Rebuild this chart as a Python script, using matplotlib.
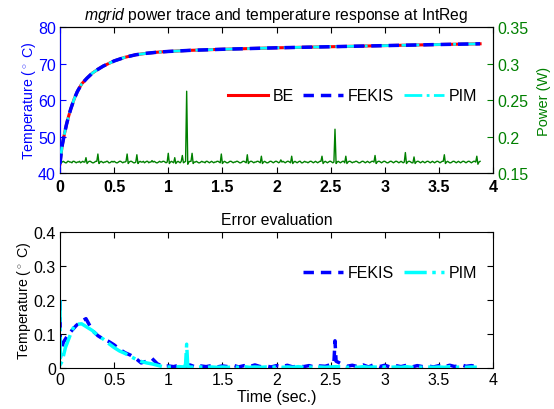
import matplotlib.pyplot as plt
import numpy as np

plt.rcParams['font.family'] = ['Liberation Sans', 'DejaVu Sans']
plt.rcParams['mathtext.fontset'] = 'custom'
plt.rcParams['mathtext.rm'] = 'Liberation Sans'
plt.rcParams['mathtext.it'] = 'Liberation Sans:italic'

# temperature response (same curve for the three solvers at this scale)
temp_t = [0, 0.01, 0.02, 0.04, 0.06, 0.08, 0.1, 0.13, 0.16, 0.2, 0.25, 0.3, 0.35,
          0.4, 0.5, 0.6, 0.7, 0.8, 0.9, 1.0, 1.2, 1.5, 2.0, 2.5, 3.0, 3.5, 3.88]
temp_be = [42.5, 45.2, 47.5, 50.6, 53.3, 55.6, 57.6, 60.2, 62.3, 64.4, 66.0, 67.4, 68.4,
           69.3, 70.7, 71.7, 72.4, 72.8, 73.1, 73.3, 73.6, 73.9, 74.3, 74.6, 74.9, 75.2, 75.4]
temp_fekis = temp_be
temp_pim = temp_be

# power trace in mW, one sample per 10 ms from 0 to 3.88 s
power_mw = [
    166, 164, 165, 166, 165, 164, 164, 166, 166, 165,
    165, 164, 166, 166, 165, 164, 165, 165, 166, 164,
    165, 166, 165, 165, 171, 163, 165, 166, 166, 165,
    164, 164, 165, 166, 166, 176, 163, 165, 166, 165,
    164, 165, 165, 166, 166, 164, 164, 165, 166, 165,
    166, 165, 164, 164, 165, 166, 166, 165, 164, 165,
    165, 166, 176, 163, 165, 166, 166, 165, 164, 164,
    165, 175, 163, 165, 166, 165, 165, 166, 164, 165,
    166, 166, 164, 165, 165, 167, 165, 166, 165, 164,
    164, 165, 166, 165, 165, 166, 166, 165, 164, 165,
    177, 163, 165, 166, 165, 164, 171, 163, 165, 166,
    165, 164, 166, 174, 164, 165, 166, 262, 162, 165,
    166, 166, 177, 163, 165, 165, 166, 165, 164, 164,
    165, 166, 165, 165, 164, 166, 166, 165, 164, 165,
    166, 165, 164, 165, 165, 166, 166, 165, 164, 176,
    163, 165, 166, 165, 164, 164, 165, 166, 166, 165,
    164, 165, 165, 166, 166, 165, 164, 164, 165, 166,
    166, 165, 164, 175, 163, 165, 166, 166, 165, 164,
    165, 165, 166, 166, 165, 164, 173, 163, 165, 166,
    165, 164, 164, 165, 166, 166, 165, 164, 165, 166,
    166, 165, 164, 165, 168, 165, 166, 165, 164, 165,
    166, 166, 165, 164, 173, 163, 165, 166, 165, 164,
    165, 166, 166, 164, 164, 165, 166, 165, 165, 164,
    165, 166, 166, 165, 164, 165, 166, 165, 164, 165,
    166, 166, 173, 163, 165, 166, 165, 164, 165, 166,
    166, 165, 164, 165, 210, 163, 165, 166, 165, 164,
    165, 166, 166, 164, 173, 163, 165, 166, 166, 165,
    164, 165, 165, 166, 166, 165, 164, 164, 165, 166,
    166, 165, 164, 165, 166, 165, 164, 165, 166, 166,
    165, 174, 163, 165, 166, 166, 165, 164, 165, 166,
    166, 165, 164, 164, 165, 166, 166, 165, 164, 165,
    166, 166, 165, 164, 165, 166, 165, 164, 165, 178,
    163, 165, 166, 166, 165, 164, 164, 172, 163, 165,
    166, 166, 165, 164, 165, 166, 165, 164, 165, 166,
    166, 165, 164, 165, 166, 165, 164, 165, 166, 166,
    165, 164, 165, 166, 166, 175, 163, 165, 166, 165,
    164, 164, 165, 166, 166, 165, 164, 165, 166, 165,
    164, 165, 166, 166, 165, 164, 165, 166, 166, 165,
    164, 165, 166, 166, 165, 173, 162, 165, 166,
]
power_t = np.arange(len(power_mw)) * 0.01
power_w = np.array(power_mw) / 1000.0

# error vs BE
fekis_err_t = [0, 0.003, 0.01, 0.03, 0.06, 0.1, 0.15, 0.2, 0.24, 0.3, 0.35, 0.4, 0.45,
               0.5, 0.55, 0.6, 0.65, 0.7, 0.75, 0.8, 0.85, 0.9, 0.95,
               1.0, 1.05, 1.1, 1.15, 1.2, 1.25, 1.3, 1.35, 1.4, 1.45, 1.5, 1.55,
               1.6, 1.65, 1.7, 1.75, 1.8, 1.85, 1.9, 1.95, 2.0, 2.05, 2.1, 2.15,
               2.2, 2.25, 2.3, 2.35, 2.4, 2.45, 2.5, 2.53, 2.54, 2.55, 2.6, 2.65,
               2.7, 2.75, 2.8, 2.85, 2.9, 2.95, 3.0, 3.05, 3.1, 3.15, 3.2, 3.25,
               3.3, 3.35, 3.4, 3.45, 3.5, 3.55, 3.6, 3.65, 3.7, 3.75, 3.8, 3.85]
fekis_err = [0.2, 0.03, 0.045, 0.075, 0.09, 0.107, 0.125, 0.138, 0.145, 0.11, 0.095, 0.085, 0.078,
             0.068, 0.055, 0.045, 0.038, 0.028, 0.015, 0.02, 0.028, 0.012, 0.005,
             0.006, 0.004, 0.008, 0.005, 0.009, 0.003, 0.006, 0.004, 0.007, 0.003, 0.006, 0.004,
             0.008, 0.003, 0.007, 0.004, 0.009, 0.004, 0.006, 0.003, 0.007, 0.004, 0.008, 0.003,
             0.006, 0.004, 0.007, 0.003, 0.006, 0.005, 0.01, 0.015, 0.08, 0.02, 0.012, 0.005,
             0.008, 0.004, 0.009, 0.003, 0.01, 0.004, 0.008, 0.003, 0.007, 0.004, 0.008, 0.003,
             0.007, 0.004, 0.006, 0.003, 0.007, 0.004, 0.008, 0.004, 0.01, 0.005, 0.007, 0.004]

pim_err_t = [0, 0.003, 0.02, 0.05, 0.08, 0.11, 0.14, 0.2, 0.25, 0.3, 0.35, 0.4, 0.45,
             0.5, 0.55, 0.6, 0.65, 0.7, 0.75, 0.8, 0.85, 0.9, 0.95,
             1.0, 1.05, 1.1, 1.15, 1.16, 1.17, 1.18, 1.2, 1.25, 1.3, 1.35, 1.4, 1.45,
             1.5, 1.55, 1.6, 1.65, 1.7, 1.75, 1.8, 1.85, 1.9, 1.95, 2.0, 2.05,
             2.1, 2.15, 2.2, 2.25, 2.3, 2.35, 2.4, 2.45, 2.5, 2.55, 2.6, 2.65,
             2.7, 2.75, 2.8, 2.85, 2.9, 2.95, 3.0, 3.05, 3.1, 3.15, 3.2, 3.25,
             3.3, 3.35, 3.4, 3.45, 3.5, 3.55, 3.6, 3.65, 3.7, 3.75, 3.8, 3.85]
pim_err = [0.2, 0.01, 0.02, 0.06, 0.085, 0.11, 0.128, 0.13, 0.12, 0.11, 0.095, 0.085, 0.072,
           0.06, 0.05, 0.043, 0.034, 0.026, 0.019, 0.015, 0.012, 0.008, 0.004,
           0.003, 0.002, 0.004, 0.003, 0.012, 0.07, 0.005, 0.003, 0.002, 0.003, 0.002, 0.003, 0.002,
           0.003, 0.002, 0.003, 0.002, 0.004, 0.002, 0.003, 0.002, 0.003, 0.002, 0.003, 0.002,
           0.003, 0.002, 0.004, 0.002, 0.003, 0.002, 0.003, 0.002, 0.003, 0.004, 0.003, 0.002,
           0.003, 0.002, 0.004, 0.002, 0.003, 0.002, 0.003, 0.002, 0.003, 0.002, 0.004, 0.002,
           0.003, 0.002, 0.003, 0.002, 0.003, 0.002, 0.004, 0.002, 0.003, 0.002, 0.003, 0.002]

blue = '#0000ff'
green = '#008000'
fs = 11.5

fig = plt.figure(figsize=(5.54, 4.10), dpi=100)
ax = fig.add_axes([0.1083, 0.5756, 0.7817, 0.3561])
ax2 = ax.twinx()
ax.set_zorder(ax2.get_zorder() + 1)
ax.patch.set_visible(False)

ax2.plot(power_t, power_w, color=green, lw=1)
ax2.set_ylim(0.15, 0.35)
ax2.set_yticks([0.15, 0.2, 0.25, 0.3, 0.35])
ax2.set_yticklabels(['0.15', '0.2', '0.25', '0.3', '0.35'])
ax2.tick_params(axis='y', colors=green, direction='in', labelsize=fs, length=4, pad=3)
ax2.set_ylabel('Power (W)', color=green, fontsize=10.5, labelpad=6)
ax2.spines['right'].set_color('#1f5a4f')

ax.plot(temp_t, temp_be, color='red', lw=2.2, label='BE')
ax.plot(temp_t, temp_fekis, color=blue, lw=2.5, ls=(0, (3, 2)), label='FEKIS', zorder=4)
ax.plot(temp_t, temp_pim, color='cyan', lw=2, ls='-.', label='PIM', zorder=3)
ax.set_xlim(0, 4)
ax.set_ylim(40, 80)
ax.set_yticks([40, 50, 60, 70, 80])
ax.set_xticks([0, 0.5, 1, 1.5, 2, 2.5, 3, 3.5, 4])
ax.set_xticklabels(['0', '0.5', '1', '1.5', '2', '2.5', '3', '3.5', '4'], fontweight='bold')
ax.tick_params(axis='x', direction='in', top=True, labelsize=fs, length=4, pad=4)
ax.tick_params(axis='y', colors=blue, direction='in', labelsize=fs, length=4, pad=3)
ax.spines['left'].set_color(blue)
ax.set_ylabel(r'Temperature ($^\circ$ C)', color=blue, fontsize=10.2, labelpad=0)
ax.set_title(r'$\it{mgrid}$ power trace and temperature response at IntReg', fontsize=11.3, pad=6)
ax.legend(loc='center right', bbox_to_anchor=(1.0, 0.53), ncol=3, frameon=False, fontsize=fs,
          handlelength=2.5, columnspacing=0.6, handletextpad=0.3, borderaxespad=0.6)

bx = fig.add_axes([0.1083, 0.1, 0.7817, 0.3317])
bx.plot(fekis_err_t, fekis_err, color=blue, lw=2.5, ls=(0, (3, 2)), label='FEKIS')
bx.plot(pim_err_t, pim_err, color='cyan', lw=2.5, ls='-.', label='PIM')
bx.set_xlim(0, 4)
bx.set_ylim(0, 0.4)
bx.set_yticks([0, 0.1, 0.2, 0.3, 0.4])
bx.set_yticklabels(['0', '0.1', '0.2', '0.3', '0.4'])
bx.set_xticks([0, 0.5, 1, 1.5, 2, 2.5, 3, 3.5, 4])
bx.set_xticklabels(['0', '0.5', '1', '1.5', '2', '2.5', '3', '3.5', '4'])
bx.tick_params(direction='in', top=True, right=True, labelsize=fs, length=4, pad=3)
bx.set_ylabel(r'Temperature ($^\circ$ C)', fontsize=10.2, labelpad=0)
bx.set_xlabel('Time (sec.)', fontsize=fs, labelpad=1)
bx.set_title('Error evaluation', fontsize=11.3, pad=6)
bx.legend(loc='center right', bbox_to_anchor=(1.0, 0.70), ncol=2, frameon=False, fontsize=fs,
          handlelength=2.5, columnspacing=0.6, handletextpad=0.3, borderaxespad=0.6)

fig.savefig('out.png', dpi=100)
